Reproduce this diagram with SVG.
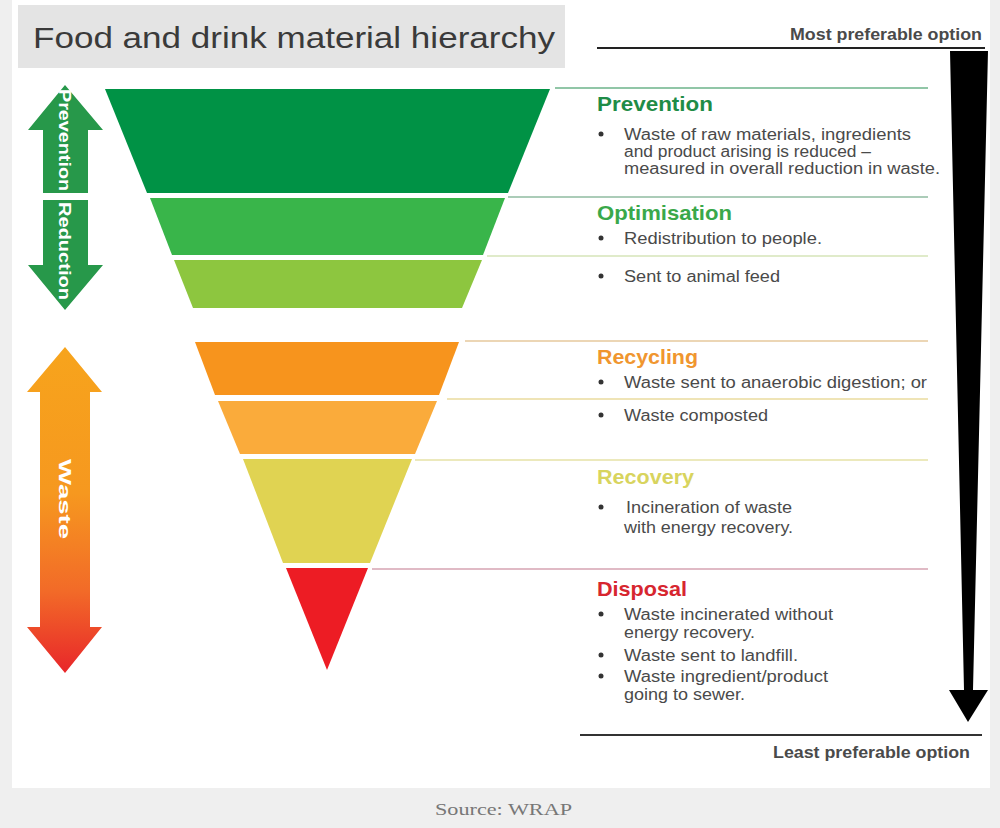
<svg xmlns="http://www.w3.org/2000/svg" width="1000" height="828" viewBox="0 0 1000 828">
  <style>
    .title { font-family: "Liberation Sans", Arial, sans-serif; font-size: 30px; fill: #3a3a3a; }
    .pref { font-family: "Liberation Sans", Arial, sans-serif; font-size: 16px; font-weight: bold; fill: #4a4a4a; }
    .head { font-family: "Liberation Sans", Arial, sans-serif; font-size: 21px; font-weight: bold; }
    .body { font-family: "Liberation Sans", Arial, sans-serif; font-size: 16px; fill: #4a4a4a; }
    .vert { font-family: "Liberation Sans", Arial, sans-serif; font-size: 16px; font-weight: bold; fill: #ffffff; text-anchor: middle; }
    .src { font-family: "Liberation Serif", "Times New Roman", serif; font-size: 17px; fill: #777777; }
    .sep { stroke-width: 1.5; fill: none; }
    .dot { fill: #333333; }
  </style>
  <defs>
    <linearGradient id="wasteGrad" x1="0" y1="347" x2="0" y2="673" gradientUnits="userSpaceOnUse">
      <stop offset="0" stop-color="#f7a41c"/>
      <stop offset="0.45" stop-color="#f6981f"/>
      <stop offset="0.75" stop-color="#f26a28"/>
      <stop offset="1" stop-color="#e8262a"/>
    </linearGradient>
  </defs>

  <!-- background -->
  <rect x="0" y="0" width="1000" height="828" fill="#efefef"/>
  <rect x="12" y="0" width="978" height="788" fill="#ffffff"/>

  <g id="title">
    <rect x="18" y="5" width="547" height="63" fill="#e4e4e4"/>
    <text class="title" x="33" y="48" textLength="522" lengthAdjust="spacingAndGlyphs">Food and drink material hierarchy</text>
  </g>

  <g id="preference-scale">
    <text class="pref" x="790" y="40" textLength="192" lengthAdjust="spacingAndGlyphs">Most preferable option</text>
    <line x1="597" y1="48" x2="985" y2="48" stroke="#222" stroke-width="2"/>
    <polygon points="950,51 988,51 973,690 988,690 968,722 949,690 964,690" fill="#000"/>
    <line x1="580" y1="735" x2="982" y2="735" stroke="#333" stroke-width="2"/>
    <text class="pref" x="773" y="758" textLength="197" lengthAdjust="spacingAndGlyphs">Least preferable option</text>
  </g>

  <g id="arrow-prevention-reduction">
    <polygon points="65,85 103,130 88,130 88,193 43,193 43,130 28,130" fill="#27984a"/>
    <polygon points="43,200 88,200 88,265 103,265 65,310 28,265 43,265" fill="#27984a"/>
    <text class="vert" transform="translate(65,140) rotate(90)" y="6" textLength="102" lengthAdjust="spacingAndGlyphs">Prevention</text>
    <text class="vert" transform="translate(65,251) rotate(90)" y="6" textLength="98" lengthAdjust="spacingAndGlyphs">Reduction</text>
  </g>

  <g id="arrow-waste">
    <polygon points="65,347 102,392 90,392 90,627 102,627 65,673 27,627 40,627 40,392 27,392" fill="url(#wasteGrad)"/>
    <text class="vert" transform="translate(65,499) rotate(90)" y="6" textLength="80" lengthAdjust="spacingAndGlyphs">Waste</text>
  </g>

  <g id="connectors">
    <line class="sep" x1="555" y1="88" x2="928" y2="88" stroke="#6db38a"/>
    <line class="sep" x1="508" y1="197" x2="928" y2="197" stroke="#8fbba0"/>
    <line class="sep" x1="487" y1="256" x2="928" y2="256" stroke="#d6e4b8"/>
    <line class="sep" x1="465" y1="341" x2="928" y2="341" stroke="#e6c99c"/>
    <line class="sep" x1="447" y1="399" x2="928" y2="399" stroke="#eadb9e"/>
    <line class="sep" x1="415" y1="460" x2="928" y2="460" stroke="#e6e2a6"/>
    <line class="sep" x1="372" y1="569" x2="928" y2="569" stroke="#d6a3b2"/>
  </g>

  <g id="prevention">
    <polygon points="105,89 550,89 508,193 147,193" fill="#009245"/>
    <text class="head" x="597" y="111" fill="#1f8c47" textLength="116" lengthAdjust="spacingAndGlyphs">Prevention</text>
    <circle class="dot" cx="601" cy="134" r="2.5"/>
    <text class="body" x="624" y="140" textLength="287" lengthAdjust="spacingAndGlyphs">Waste of raw materials, ingredients</text>
    <text class="body" x="624" y="157" textLength="247" lengthAdjust="spacingAndGlyphs">and product arising is reduced –</text>
    <text class="body" x="624" y="174" textLength="316" lengthAdjust="spacingAndGlyphs">measured in overall reduction in waste.</text>
  </g>

  <g id="optimisation">
    <polygon points="150,198 505,198 483,255 172,255" fill="#39b54a"/>
    <text class="head" x="597" y="220" fill="#3aa84a" textLength="135" lengthAdjust="spacingAndGlyphs">Optimisation</text>
    <circle class="dot" cx="601" cy="238" r="2.5"/>
    <text class="body" x="624" y="244" textLength="198" lengthAdjust="spacingAndGlyphs">Redistribution to people.</text>
  </g>

  <g id="animal-feed">
    <polygon points="174,260 482,260 462,308 193,308" fill="#8dc63f"/>
    <circle class="dot" cx="601" cy="276" r="2.5"/>
    <text class="body" x="624" y="282" textLength="156" lengthAdjust="spacingAndGlyphs">Sent to animal feed</text>
  </g>

  <g id="recycling">
    <polygon points="195,342 459,342 439,395 215,395" fill="#f7941d"/>
    <text class="head" x="597" y="364" fill="#f0962f" textLength="101" lengthAdjust="spacingAndGlyphs">Recycling</text>
    <circle class="dot" cx="601" cy="382" r="2.5"/>
    <text class="body" x="624" y="388" textLength="303" lengthAdjust="spacingAndGlyphs">Waste sent to anaerobic digestion; or</text>
  </g>

  <g id="composted">
    <polygon points="218,401 437,401 415,454 240,454" fill="#faab3b"/>
    <circle class="dot" cx="601" cy="415" r="2.5"/>
    <text class="body" x="624" y="421" textLength="144" lengthAdjust="spacingAndGlyphs">Waste composted</text>
  </g>

  <g id="recovery">
    <polygon points="243,459 412,459 370,563 283,563" fill="#e0d352"/>
    <text class="head" x="597" y="484" fill="#d8d45e" textLength="97" lengthAdjust="spacingAndGlyphs">Recovery</text>
    <circle class="dot" cx="601" cy="507" r="2.5"/>
    <text class="body" x="626" y="513" textLength="166" lengthAdjust="spacingAndGlyphs">Incineration of waste</text>
    <text class="body" x="624" y="533" textLength="169" lengthAdjust="spacingAndGlyphs">with energy recovery.</text>
  </g>

  <g id="disposal">
    <polygon points="286,568 368,568 327,670" fill="#ed1c24"/>
    <text class="head" x="597" y="596" fill="#d7262f" textLength="90" lengthAdjust="spacingAndGlyphs">Disposal</text>
    <circle class="dot" cx="601" cy="614" r="2.5"/>
    <text class="body" x="624" y="620" textLength="209" lengthAdjust="spacingAndGlyphs">Waste incinerated without</text>
    <text class="body" x="624" y="638" textLength="131" lengthAdjust="spacingAndGlyphs">energy recovery.</text>
    <circle class="dot" cx="601" cy="655" r="2.5"/>
    <text class="body" x="624" y="661" textLength="174" lengthAdjust="spacingAndGlyphs">Waste sent to landfill.</text>
    <circle class="dot" cx="601" cy="676" r="2.5"/>
    <text class="body" x="624" y="682" textLength="204" lengthAdjust="spacingAndGlyphs">Waste ingredient/product</text>
    <text class="body" x="624" y="700" textLength="121" lengthAdjust="spacingAndGlyphs">going to sewer.</text>
  </g>

  <g id="source">
    <text class="src" x="435" y="815" textLength="137" lengthAdjust="spacingAndGlyphs">Source: WRAP</text>
  </g>
</svg>
